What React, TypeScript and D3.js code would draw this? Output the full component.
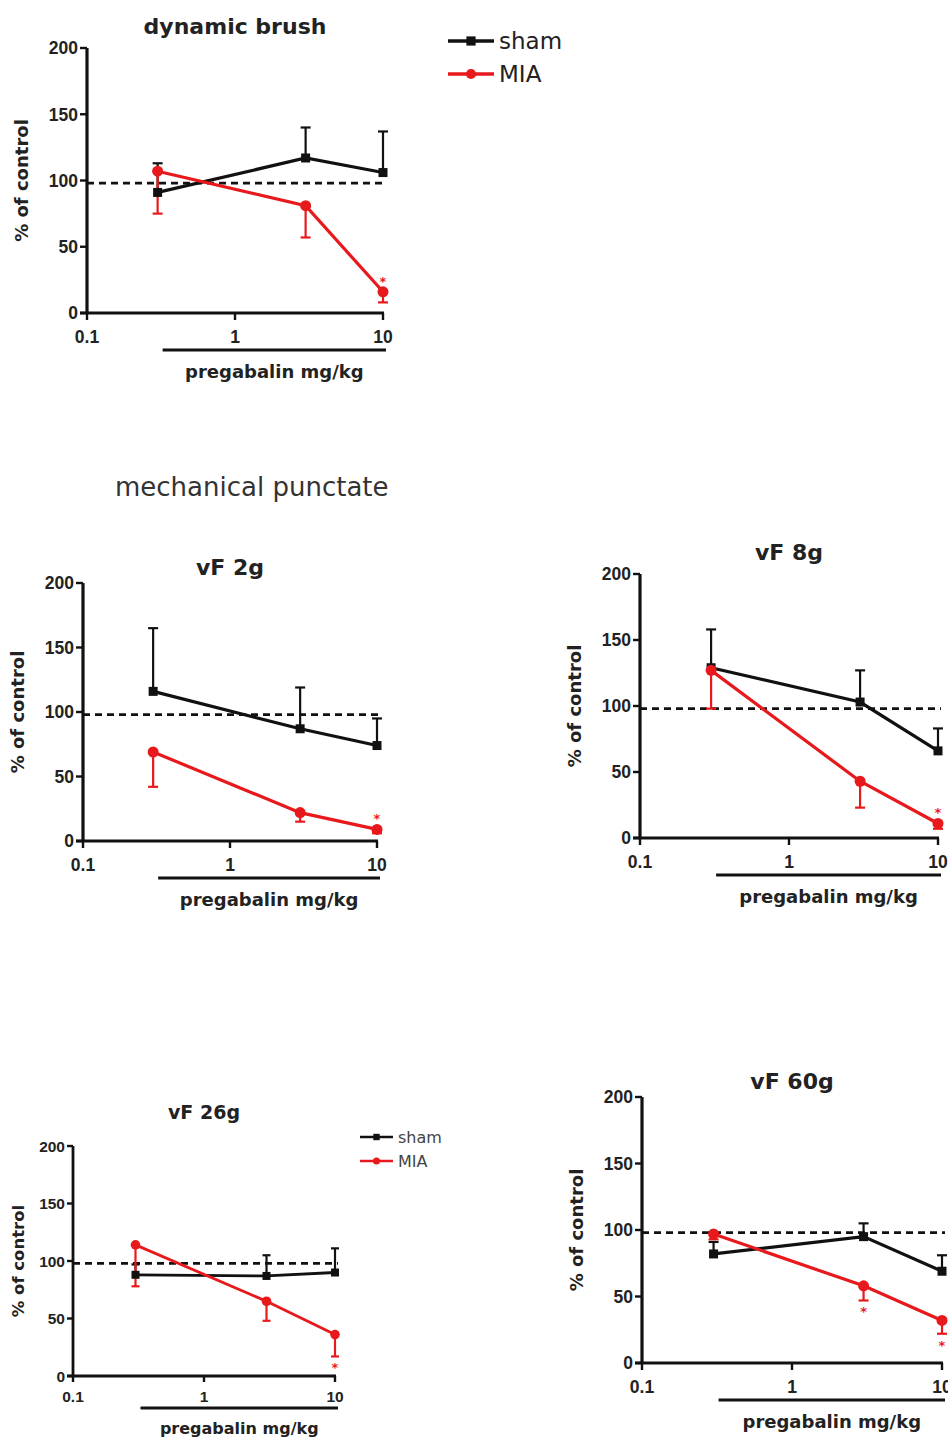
import React from "react";
import * as d3 from "d3";

const doses = [0.3, 3, 10];
const xTickValues = [0.1, 1, 10];
const xTickLabels = ["0.1", "1", "10"];
const yTickValues = [0, 50, 100, 150, 200];
const controlLevel = 98;
const seriesNames = ["sham", "MIA"];

const brushSham = [91, 117, 106];
const brushShamSem = [22, 23, 31];
const brushMIA = [107, 81, 16];
const brushMIASem = [32, 24, 8];

const vf2Sham = [116, 87, 74];
const vf2ShamSem = [49, 32, 21];
const vf2MIA = [69, 22, 9];
const vf2MIASem = [27, 7, 3];

const vf8Sham = [129, 103, 66];
const vf8ShamSem = [29, 24, 17];
const vf8MIA = [127, 43, 11];
const vf8MIASem = [29, 20, 4];

const vf26Sham = [88, 87, 90];
const vf26ShamSem = [9, 18, 21];
const vf26MIA = [114, 65, 36];
const vf26MIASem = [36, 17, 19];

const vf60Sham = [82, 95, 69];
const vf60ShamSem = [9, 10, 12];
const vf60MIA = [97, 58, 32];
const vf60MIASem = [4, 11, 10];

const BLACK = "#111";
const RED = "#e8191c";
const FONT = "'DejaVu Sans', Verdana, sans-serif";
const TICKFONT = "'Liberation Sans', Arial, sans-serif";

type PanelProps = {
  title: string;
  x0: number; x1: number; yTop: number; yBottom: number;
  titleY: number;
  sham: number[]; shamSem: number[]; mia: number[]; miaSem: number[];
  starsAbove: number[]; starsBelow: number[];
  small?: boolean;
};

function Panel(p: PanelProps) {
  const x = d3.scaleLog().domain([0.1, 10]).range([p.x0, p.x1]);
  const y = d3.scaleLinear().domain([0, 200]).range([p.yBottom, p.yTop]);
  const line = d3.line<number>().x((_, i) => x(doses[i])).y((v) => y(v));
  const tickFs = p.small ? 15.5 : 17.5;
  const titleFs = p.small ? 19 : 22;
  const labFs = p.small ? 16 : 18;
  const yTitleFs = p.small ? 16.5 : 18;
  const lw = p.small ? 2.8 : 3.2;
  const capW = p.small ? 8 : 10;
  const sq = p.small ? 8 : 9;
  const r = p.small ? 4.8 : 5.5;
  const tl = p.small ? 6 : 7;
  const underY = p.yBottom + (p.small ? 32 : 37);
  const xlabY = p.yBottom + (p.small ? 58 : 65);
  const midX = (x(0.3) + x(10)) / 2 + 4;
  return (
    <g fontFamily={FONT}>
      <text x={x(1)} y={p.titleY} textAnchor="middle" fontSize={titleFs} fontWeight="bold" fill="#222">{p.title}</text>
      <line x1={p.x0} x2={p.x0} y1={p.yTop} y2={p.yBottom} stroke={BLACK} strokeWidth={lw} />
      {yTickValues.map((v) => (
        <g key={v}>
          <line x1={p.x0 - tl} x2={p.x0} y1={y(v)} y2={y(v)} stroke={BLACK} strokeWidth={2.4} />
          <text x={p.x0 - tl - 2} y={y(v) + tickFs * 0.36} textAnchor="end" fontFamily={TICKFONT} fontSize={tickFs} fontWeight="bold" fill="#222">{v}</text>
        </g>
      ))}
      <line x1={p.x0 - tl} x2={p.x1 + 1} y1={p.yBottom} y2={p.yBottom} stroke={BLACK} strokeWidth={lw} />
      {xTickValues.map((v, i) => (
        <g key={v}>
          <line x1={x(v)} x2={x(v)} y1={p.yBottom} y2={p.yBottom + tl} stroke={BLACK} strokeWidth={2.4} />
          <text x={x(v)} y={p.yBottom + (p.small ? 26 : 30)} textAnchor="middle" fontFamily={TICKFONT} fontSize={tickFs} fontWeight="bold" fill="#222">{xTickLabels[i]}</text>
        </g>
      ))}
      <text transform={`translate(${p.x0 - (p.small ? 49 : 59)},${(p.yTop + p.yBottom) / 2}) rotate(-90)`} textAnchor="middle" fontSize={yTitleFs} fontWeight="bold" fill="#222">% of control</text>
      <line x1={x(0.3) + 5} x2={x(10) + 3} y1={underY} y2={underY} stroke={BLACK} strokeWidth={3} />
      <text x={midX} y={xlabY} textAnchor="middle" fontSize={labFs} fontWeight="bold" fill="#222">pregabalin mg/kg</text>
      <line x1={p.x0} x2={p.x1 + 3} y1={y(controlLevel)} y2={y(controlLevel)} stroke={BLACK} strokeWidth={2.8} strokeDasharray="7,5" />
      {p.sham.map((v, i) => (
        <g key={"se" + i} stroke={BLACK} strokeWidth={2.2}>
          <line x1={x(doses[i])} x2={x(doses[i])} y1={y(v)} y2={y(v + p.shamSem[i])} />
          <line x1={x(doses[i]) - capW / 2} x2={x(doses[i]) + capW / 2} y1={y(v + p.shamSem[i])} y2={y(v + p.shamSem[i])} />
        </g>
      ))}
      {p.mia.map((v, i) => (
        <g key={"me" + i} stroke={RED} strokeWidth={2.2}>
          <line x1={x(doses[i])} x2={x(doses[i])} y1={y(v)} y2={y(v - p.miaSem[i])} />
          <line x1={x(doses[i]) - capW / 2} x2={x(doses[i]) + capW / 2} y1={y(v - p.miaSem[i])} y2={y(v - p.miaSem[i])} />
        </g>
      ))}
      <path d={line(p.sham) || ""} fill="none" stroke={BLACK} strokeWidth={lw} />
      {p.sham.map((v, i) => (
        <rect key={"s" + i} x={x(doses[i]) - sq / 2} y={y(v) - sq / 2} width={sq} height={sq} fill={BLACK} />
      ))}
      <path d={line(p.mia) || ""} fill="none" stroke={RED} strokeWidth={lw} />
      {p.mia.map((v, i) => (
        <circle key={"m" + i} cx={x(doses[i])} cy={y(v)} r={r} fill={RED} />
      ))}
      {p.starsAbove.map((i) => (
        <text key={"sa" + i} x={x(doses[i])} y={y(p.mia[i]) - 6} textAnchor="middle" fontSize={13} fontWeight="bold" fill={RED}>*</text>
      ))}
      {p.starsBelow.map((i) => (
        <text key={"sb" + i} x={x(doses[i])} y={y(p.mia[i] - p.miaSem[i]) + 16} textAnchor="middle" fontSize={13} fontWeight="bold" fill={RED}>*</text>
      ))}
    </g>
  );
}

function Legend({ x0, y0, gap, len, fs, color }: { x0: number; y0: number; gap: number; len: number; fs: number; color: string }) {
  return (
    <g fontFamily={FONT}>
      {seriesNames.map((name, i) => {
        const c = i === 0 ? BLACK : RED;
        const yy = y0 + i * gap;
        return (
          <g key={name}>
            <line x1={x0} x2={x0 + len} y1={yy} y2={yy} stroke={c} strokeWidth={fs > 18 ? 3.5 : 2.6} />
            {i === 0 ? (
              <rect x={x0 + len / 2 - fs * 0.2} y={yy - fs * 0.2} width={fs * 0.4} height={fs * 0.4} fill={c} />
            ) : (
              <circle cx={x0 + len / 2} cy={yy} r={fs * 0.22} fill={c} />
            )}
            <text x={x0 + len + 5} y={yy + fs * 0.36} fontSize={fs} fill={color}>{name}</text>
          </g>
        );
      })}
    </g>
  );
}

export default function App() {
  return (
    <svg width={948} height={1437} style={{ position: "absolute", left: 0, top: 0, background: "#fff" }}>
      <rect width={948} height={1437} fill="#fff" />
      <Panel title="dynamic brush" x0={87} x1={383} yTop={48} yBottom={313} titleY={34}
        sham={brushSham} shamSem={brushShamSem} mia={brushMIA} miaSem={brushMIASem}
        starsAbove={[2]} starsBelow={[]} />
      <Legend x0={448} y0={41} gap={33} len={46} fs={23} color="#222" />
      <text x={115} y={496} fontFamily={FONT} fontSize={26} fill="#333">mechanical punctate</text>
      <Panel title="vF 2g" x0={83} x1={377} yTop={583} yBottom={841} titleY={575}
        sham={vf2Sham} shamSem={vf2ShamSem} mia={vf2MIA} miaSem={vf2MIASem}
        starsAbove={[2]} starsBelow={[]} />
      <Panel title="vF 8g" x0={640} x1={938} yTop={574} yBottom={838} titleY={560}
        sham={vf8Sham} shamSem={vf8ShamSem} mia={vf8MIA} miaSem={vf8MIASem}
        starsAbove={[2]} starsBelow={[]} />
      <Panel title="vF 26g" x0={73} x1={335} yTop={1146} yBottom={1376} titleY={1119} small
        sham={vf26Sham} shamSem={vf26ShamSem} mia={vf26MIA} miaSem={vf26MIASem}
        starsAbove={[]} starsBelow={[2]} />
      <Legend x0={360} y0={1137} gap={24} len={33} fs={16} color="#444" />
      <Panel title="vF 60g" x0={642} x1={942} yTop={1097} yBottom={1363} titleY={1089}
        sham={vf60Sham} shamSem={vf60ShamSem} mia={vf60MIA} miaSem={vf60MIASem}
        starsAbove={[]} starsBelow={[1, 2]} />
    </svg>
  );
}
